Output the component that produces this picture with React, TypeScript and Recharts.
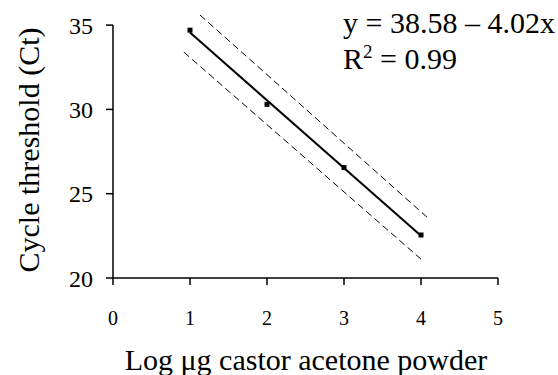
import { ComposedChart, Line, Scatter, XAxis, YAxis, ReferenceLine } from 'recharts';

const SERIF = 'Liberation Serif';

const xTicks = [0, 1, 2, 3, 4, 5];
const yTicks = [20, 25, 30, 35];

// measured Ct per log dilution
const logDose = [1, 2, 3, 4];
const ctValues = [34.7, 30.3, 26.55, 22.55];

const points = logDose.map((x, i) => ({ x, y: ctValues[i] }));

// fitted line end points
const fitLine = [
  { x: 1, y: 34.56 },
  { x: 4, y: 22.5 },
];

// confidence bands (dashed)
const upperBand = [
  { x: 1.13, y: 35.6 },
  { x: 4.08, y: 23.6 },
];
const lowerBand = [
  { x: 0.92, y: 33.4 },
  { x: 4.0, y: 21.12 },
];

const Marker = (props: any) => {
  const { cx, cy } = props;
  return <rect x={cx - 2.5} y={cy - 2.5} width={5} height={5} fill="#000" />;
};

export default function App() {
  return (
    <div style={{ position: 'absolute', left: 0, top: 0, width: 558, height: 375, background: '#fff' }}>
      <ComposedChart width={558} height={375} margin={{ top: 15, right: 60, bottom: 0, left: 0 }}>
        <XAxis
          type="number"
          dataKey="x"
          domain={[0, 5]}
          ticks={xTicks}
          height={97}
          tickSize={7}
          tickMargin={26}
          axisLine={{ stroke: '#000', strokeWidth: 1.5 }}
          tickLine={{ stroke: '#000', strokeWidth: 1.5 }}
          tick={{ fill: '#000', fontSize: 20, fontFamily: SERIF }}
        />
        <YAxis
          type="number"
          dataKey="y"
          domain={[20, 35.6]}
          ticks={yTicks}
          width={113}
          tickSize={7}
          tickMargin={13}
          axisLine={false}
          tickLine={{ stroke: '#000', strokeWidth: 1.5 }}
          tick={{ fill: '#000', fontSize: 24, fontFamily: SERIF }}
        />
        <ReferenceLine segment={[{ x: 0, y: 20 }, { x: 0, y: 35 }]} stroke="#000" strokeWidth={1.5} />
        <Line data={upperBand} dataKey="y" stroke="#000" strokeWidth={1} strokeDasharray="7 4" dot={false} isAnimationActive={false} />
        <Line data={lowerBand} dataKey="y" stroke="#000" strokeWidth={1} strokeDasharray="7 4" dot={false} isAnimationActive={false} />
        <Line data={fitLine} dataKey="y" stroke="#000" strokeWidth={2} dot={false} isAnimationActive={false} />
        <Scatter data={points} dataKey="y" shape={<Marker />} isAnimationActive={false} />
      </ComposedChart>
      <svg width={558} height={375} style={{ position: 'absolute', left: 0, top: 0, pointerEvents: 'none' }}>
        <text x={28} y={150} transform="rotate(-90 28 150)" textAnchor="middle" dominantBaseline="central"
          fontFamily={SERIF} fontSize={30} fill="#000">
          Cycle threshold (Ct)
        </text>
        <text x={306} y={370} textAnchor="middle" fontFamily={SERIF} fontSize={30} fill="#000">
          Log μg castor acetone powder
        </text>
        <text x={343} y={33} fontFamily={SERIF} fontSize={30} fill="#000">y = 38.58 – 4.02x</text>
        <text x={343} y={69} fontFamily={SERIF} fontSize={30} fill="#000">
          R<tspan dy={-11} fontSize={19}>2</tspan><tspan dy={11}> = 0.99</tspan>
        </text>
      </svg>
    </div>
  );
}
